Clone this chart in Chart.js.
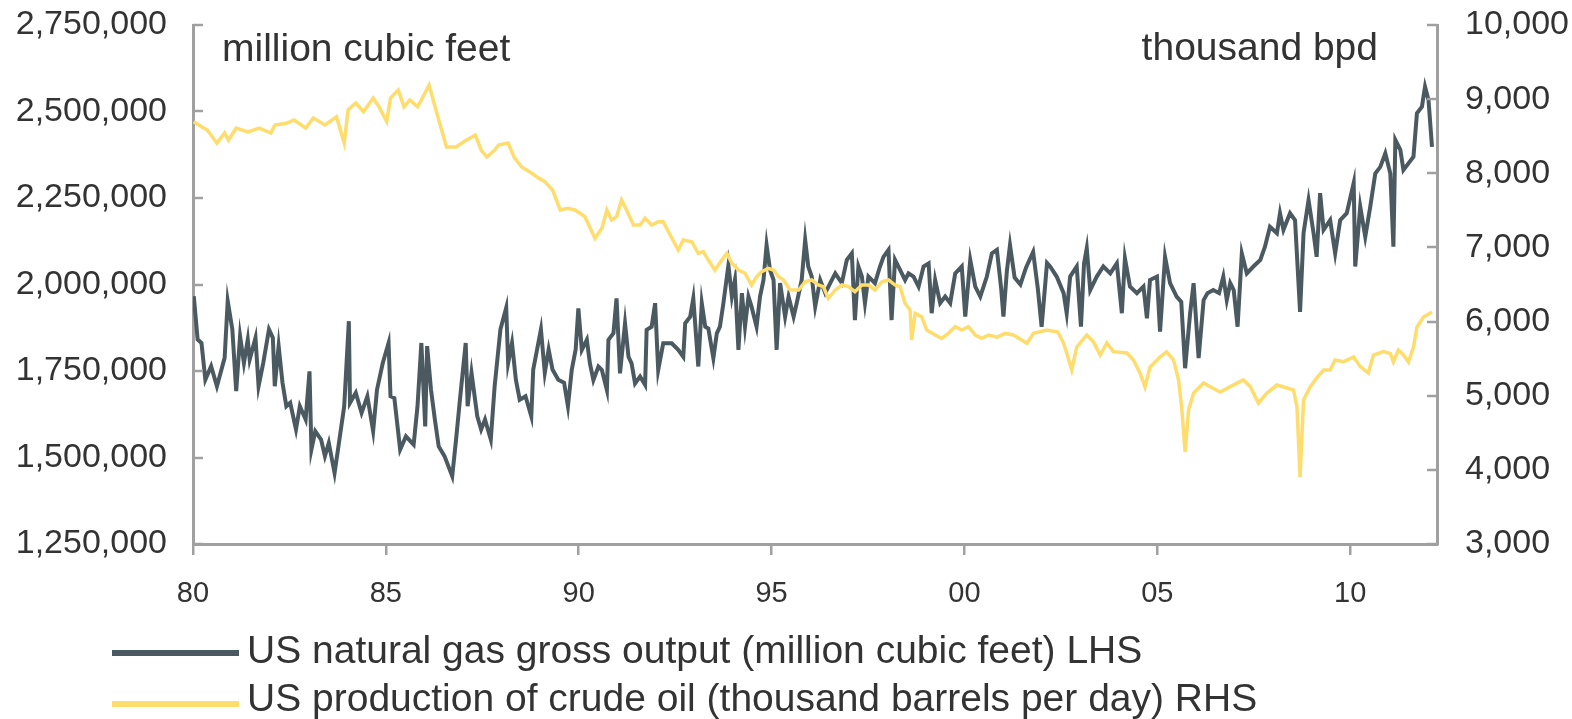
<!DOCTYPE html>
<html>
<head>
<meta charset="utf-8">
<script src="https://cdn.jsdelivr.net/npm/chart.js@4/dist/chart.umd.min.js"></script>
<style>
html,body{margin:0;padding:0;background:#ffffff;overflow:hidden;}
#wrap{position:relative;width:1572px;height:719px;}
</style>
</head>
<body>
<div id="wrap"><canvas id="c" width="1572" height="719"></canvas></div>
<script>
// ---------------- DATA ----------------
const gasYears = [
1980.02,1980.12,1980.22,1980.32,1980.47,1980.62,1980.82,1980.90,1981.02,1981.12,
1981.22,1981.32,1981.42,1981.47,1981.62,1981.70,1981.82,1981.97,1982.07,1982.12,
1982.22,1982.32,1982.42,1982.52,1982.67,1982.77,1982.92,1983.02,1983.07,1983.17,
1983.32,1983.42,1983.52,1983.67,1983.77,1983.92,1984.04,1984.07,1984.22,1984.37,
1984.52,1984.67,1984.77,1984.92,1985.07,1985.12,1985.22,1985.37,1985.52,1985.72,
1985.82,1985.92,1986.02,1986.07,1986.17,1986.27,1986.37,1986.52,1986.62,1986.72,
1986.82,1986.92,1987.07,1987.12,1987.22,1987.37,1987.47,1987.57,1987.72,1987.82,
1987.97,1988.12,1988.17,1988.27,1988.37,1988.47,1988.62,1988.77,1988.82,1989.02,
1989.12,1989.22,1989.32,1989.47,1989.62,1989.72,1989.82,1989.92,1989.99,1990.08,
1990.21,1990.29,1990.38,1990.51,1990.60,1990.73,1990.77,1990.90,1990.98,1991.07,
1991.20,1991.29,1991.37,1991.46,1991.59,1991.72,1991.76,1991.89,1991.98,1992.06,
1992.19,1992.41,1992.58,1992.71,1992.76,1992.89,1992.97,1993.10,1993.19,1993.28,
1993.36,1993.49,1993.58,1993.66,1993.75,1993.88,1993.97,1994.05,1994.14,1994.23,
1994.31,1994.40,1994.48,1994.61,1994.70,1994.79,1994.87,1994.96,1995.05,1995.13,
1995.22,1995.35,1995.44,1995.57,1995.65,1995.78,1995.87,1995.95,1996.04,1996.13,
1996.26,1996.39,1996.52,1996.65,1996.82,1996.95,1997.08,1997.16,1997.25,1997.34,
1997.42,1997.51,1997.68,1997.81,1997.90,1998.03,1998.11,1998.20,1998.33,1998.46,
1998.55,1998.68,1998.81,1998.94,1999.07,1999.15,1999.24,1999.37,1999.50,1999.63,
1999.76,1999.93,2000.02,2000.15,2000.28,2000.41,2000.58,2000.71,2000.84,2000.95,
2001.01,2001.10,2001.18,2001.30,2001.45,2001.60,2001.78,2001.90,2002.00,2002.14,
2002.22,2002.39,2002.57,2002.65,2002.74,2002.91,2003.02,2003.10,2003.17,2003.26,
2003.43,2003.60,2003.78,2003.95,2004.08,2004.16,2004.29,2004.47,2004.64,2004.73,
2004.81,2004.99,2005.07,2005.20,2005.33,2005.50,2005.62,2005.72,2005.85,2005.94,
2006.07,2006.20,2006.30,2006.45,2006.60,2006.71,2006.80,2006.89,2006.98,2007.08,
2007.19,2007.32,2007.49,2007.67,2007.79,2007.92,2008.10,2008.18,2008.27,2008.44,
2008.57,2008.70,2008.79,2008.92,2009.05,2009.13,2009.22,2009.31,2009.48,2009.61,
2009.74,2009.91,2010.09,2010.13,2010.26,2010.39,2010.52,2010.65,2010.78,2010.91,
2011.04,2011.12,2011.17,2011.30,2011.38,2011.51,2011.64,2011.73,2011.86,2011.94,
2012.03,2012.12
];
const gasValues = [
1966000,1841000,1831000,1725000,1764000,1706000,1788000,1952000,1870000,1692000,
1851000,1773000,1841000,1783000,1846000,1706000,1773000,1870000,1846000,1706000,
1822000,1716000,1648000,1658000,1581000,1648000,1610000,1749000,1523000,1576000,
1552000,1504000,1542000,1455000,1532000,1648000,1894000,1658000,1687000,1629000,
1677000,1576000,1696000,1773000,1831000,1677000,1672000,1523000,1561000,1537000,
1648000,1831000,1590000,1822000,1696000,1610000,1532000,1504000,1475000,1446000,
1552000,1667000,1831000,1648000,1745000,1619000,1581000,1610000,1552000,1706000,
1870000,1933000,1773000,1831000,1725000,1667000,1677000,1619000,1754000,1870000,
1745000,1812000,1754000,1725000,1716000,1648000,1754000,1812000,1931000,1811000,
1840000,1772000,1724000,1763000,1753000,1695000,1840000,1859000,1960000,1743000,
1888000,1791000,1772000,1714000,1734000,1710000,1869000,1878000,1946000,1753000,
1830000,1830000,1811000,1791000,1888000,1907000,1960000,1763000,1946000,1878000,
1873000,1787000,1859000,1878000,1946000,2056000,1965000,2013000,1811000,1975000,
1878000,1965000,1936000,1878000,1965000,2013000,2114000,2042000,2013000,1811000,
2004000,1907000,1965000,1907000,1946000,2013000,2129000,2052000,2023000,1936000,
2013000,1975000,2004000,2032000,2004000,2071000,2090000,1897000,2052000,2023000,
1946000,2023000,2004000,2052000,2080000,2100000,1897000,2071000,2042000,2013000,
2032000,2023000,1994000,2052000,2061000,1917000,2013000,1946000,1965000,1946000,
2032000,2052000,1907000,2071000,1994000,1965000,2023000,2090000,2100000,1990000,
1907000,2040000,2114000,2020000,2000000,2050000,2094000,1990000,1878000,2062000,
2052000,2023000,1975000,1917000,2023000,2052000,1878000,2061000,2105000,1984000,
2023000,2052000,2032000,2061000,1917000,2076000,1994000,1975000,1994000,1902000,
2013000,2023000,1864000,2080000,2004000,1965000,1950000,1758000,1917000,2004000,
1787000,1955000,1975000,1984000,1975000,2023000,1955000,2004000,1984000,1878000,
2090000,2032000,2052000,2071000,2109000,2167000,2148000,2206000,2158000,2206000,
2186000,1921000,2148000,2244000,2148000,2080000,2264000,2158000,2186000,2090000,
2186000,2206000,2293000,2052000,2225000,2138000,2225000,2321000,2340000,2379000,
2321000,2109000,2418000,2389000,2331000,2350000,2369000,2495000,2514000,2572000,
2533000,2398000
];
const oilYears = [
1980.02,1980.22,1980.37,1980.62,1980.82,1980.92,1981.12,1981.42,1981.72,1982.02,
1982.12,1982.42,1982.62,1982.92,1983.12,1983.42,1983.72,1983.92,1984.02,1984.22,
1984.42,1984.67,1984.82,1985.02,1985.12,1985.32,1985.47,1985.62,1985.82,1985.92,
1986.12,1986.32,1986.57,1986.82,1987.02,1987.32,1987.47,1987.62,1987.82,1987.92,
1988.17,1988.32,1988.52,1988.72,1988.92,1989.12,1989.32,1989.52,1989.72,1989.90,
1990.16,1990.42,1990.60,1990.73,1990.85,1990.98,1991.11,1991.24,1991.42,1991.59,
1991.72,1991.89,1992.06,1992.19,1992.37,1992.58,1992.71,1992.93,1993.10,1993.23,
1993.36,1993.53,1993.71,1993.84,1993.97,1994.14,1994.31,1994.48,1994.61,1994.74,
1994.92,1995.05,1995.18,1995.31,1995.48,1995.70,1995.87,1996.04,1996.21,1996.34,
1996.47,1996.65,1996.82,1996.99,1997.16,1997.34,1997.51,1997.68,1997.86,1998.03,
1998.20,1998.33,1998.46,1998.59,1998.63,1998.72,1998.89,1999.02,1999.24,1999.41,
1999.58,1999.76,1999.93,2000.10,2000.28,2000.45,2000.62,2000.85,2001.05,2001.27,
2001.62,2001.79,2002.13,2002.42,2002.57,2002.65,2002.78,2002.91,2003.17,2003.34,
2003.52,2003.69,2003.86,2004.21,2004.38,2004.55,2004.68,2004.81,2005.07,2005.24,
2005.42,2005.55,2005.63,2005.72,2005.81,2005.94,2006.20,2006.37,2006.63,2006.89,
2007.23,2007.41,2007.62,2007.84,2008.10,2008.36,2008.53,2008.62,2008.70,2008.79,
2008.96,2009.13,2009.31,2009.48,2009.61,2009.83,2010.09,2010.26,2010.47,2010.60,
2010.86,2011.04,2011.12,2011.25,2011.38,2011.51,2011.64,2011.73,2011.90,2012.12
];
const oilValues = [
8696,8628,8584,8408,8543,8449,8610,8557,8610,8543,
8651,8674,8719,8610,8745,8651,8760,8408,8854,8948,
8830,9015,8898,8697,9015,9123,8898,8988,8898,8988,
9190,8813,8354,8354,8426,8516,8314,8220,8314,8381,
8408,8220,8085,8022,7950,7887,7775,7505,7527,7505,
7415,7123,7258,7505,7370,7415,7640,7505,7302,7302,
7393,7302,7347,7347,7168,6965,7100,7077,6921,6943,
6830,6695,6830,6921,6786,6695,6651,6493,6605,6673,
6718,6695,6605,6561,6426,6426,6538,6561,6493,6471,
6314,6426,6493,6471,6403,6493,6493,6426,6538,6561,
6493,6471,6246,6156,5751,6111,6066,5886,5819,5774,
5841,5931,5886,5931,5819,5774,5819,5790,5840,5819,
5707,5841,5886,5860,5707,5576,5347,5657,5819,5729,
5549,5711,5594,5576,5482,5306,5117,5387,5522,5590,
5482,5212,4848,4241,4807,5036,5171,5122,5050,5122,
5212,5122,4902,5036,5144,5104,5077,4848,3903,4942,
5117,5239,5347,5347,5482,5460,5522,5392,5306,5549,
5594,5570,5455,5616,5549,5455,5657,5927,6062,6130
];
const xTickYears  = [1980,1985,1990,1995,2000,2005,2010];
const xTickLabels = ['80','85','90','95','00','05','10'];
const leftTicks   = [1250000,1500000,1750000,2000000,2250000,2500000,2750000];
const rightTicks  = [3000,4000,5000,6000,7000,8000,9000,10000];
const seriesLabels = ['US natural gas gross output (million cubic feet) LHS',
                      'US production of crude oil (thousand barrels per day) RHS'];
const unitLabels = ['million cubic feet','thousand bpd'];

// ---------------- STYLE ----------------
const FONT = '"Liberation Sans", Arial, Helvetica, sans-serif';
const TEXT = '#333333';
const AXIS = '#a0a0a0';
const GAS = '#4b5a61';
const OIL = '#fedd6d';

const gasData = gasYears.map((x,i)=>({x:x, y:gasValues[i]}));
const oilData = oilYears.map((x,i)=>({x:x, y:oilValues[i]}));

function noVPad(s){ s.paddingTop = 0; s.paddingBottom = 0; }

const extrasPlugin = {
  id:'extras',
  afterDatasetsDraw(chart){
    const ctx = chart.ctx, a = chart.chartArea, s = chart.scales;
    ctx.save();
    ctx.strokeStyle = AXIS; ctx.lineWidth = 2.5;
    s.yL.ticks.forEach(t=>{ const y = Math.round(s.yL.getPixelForValue(t.value));
      ctx.beginPath(); ctx.moveTo(a.left, y); ctx.lineTo(a.left+10, y); ctx.stroke(); });
    s.yR.ticks.forEach(t=>{ const y = Math.round(s.yR.getPixelForValue(t.value));
      ctx.beginPath(); ctx.moveTo(a.right-10, y); ctx.lineTo(a.right, y); ctx.stroke(); });
    ctx.fillStyle = TEXT; ctx.font = '39px ' + FONT; ctx.textBaseline = 'alphabetic';
    ctx.textAlign = 'left';  ctx.fillText(unitLabels[0], a.left + 29, 61);
    ctx.textAlign = 'right'; ctx.fillText(unitLabels[1], a.right - 59, 60);
    const rows = [{ly:653, ty:663}, {ly:704, ty:711}];
    chart.data.datasets.forEach((ds,i)=>{
      ctx.strokeStyle = ds.borderColor; ctx.lineWidth = 6;
      ctx.beginPath(); ctx.moveTo(112, rows[i].ly); ctx.lineTo(239, rows[i].ly); ctx.stroke();
      ctx.fillStyle = TEXT; ctx.font = '39px ' + FONT; ctx.textAlign = 'left';
      ctx.fillText(ds.label, 247, rows[i].ty);
    });
    ctx.restore();
  }
};

new Chart(document.getElementById('c'), {
  type:'line',
  data:{ datasets:[
    {label:seriesLabels[0], data:gasData, yAxisID:'yL', borderColor:GAS, borderWidth:4, pointRadius:0, tension:0, order:1},
    {label:seriesLabels[1], data:oilData, yAxisID:'yR', borderColor:OIL, borderWidth:3.5, pointRadius:0, tension:0, order:0}
  ]},
  options:{
    responsive:false, animation:false, devicePixelRatio:1,
    layout:{padding:{top:25, bottom:115, left:0, right:0}},
    plugins:{legend:{display:false}, tooltip:{enabled:false}},
    scales:{
      x:{
        type:'linear', min:1980, max:2012.25,
        afterBuildTicks:(s)=>{ s.ticks = xTickYears.map(v=>({value:v})); },
        afterFit:(s)=>{ s.height = 60; },
        ticks:{ callback:(v)=>xTickLabels[xTickYears.indexOf(v)], color:TEXT,
                font:{family:FONT, size:29}, padding:22, maxRotation:0, autoSkip:false },
        grid:{ display:true, drawOnChartArea:false, drawTicks:true, tickLength:11, color:AXIS, lineWidth:2.5 },
        border:{ display:true, color:AXIS, width:3 }
      },
      yL:{
        type:'linear', position:'left', min:1250000, max:2750000,
        afterBuildTicks:(s)=>{ s.ticks = leftTicks.map(v=>({value:v})); },
        afterFit:(s)=>{ s.width = 193; noVPad(s); },
        ticks:{ callback:(v)=>v.toLocaleString('en-US'), color:TEXT,
                font:{family:FONT, size:34}, padding:26 },
        grid:{ display:false, drawTicks:false },
        border:{ display:true, color:AXIS, width:3 }
      },
      yR:{
        type:'linear', position:'right', min:3000, max:10000,
        afterBuildTicks:(s)=>{ s.ticks = rightTicks.map(v=>({value:v})); },
        afterFit:(s)=>{ s.width = 135; noVPad(s); },
        ticks:{ callback:(v)=>v.toLocaleString('en-US'), color:TEXT,
                font:{family:FONT, size:34}, padding:28 },
        grid:{ display:false, drawTicks:false },
        border:{ display:true, color:AXIS, width:3 }
      }
    }
  },
  plugins:[extrasPlugin]
});
</script>
</body>
</html>
